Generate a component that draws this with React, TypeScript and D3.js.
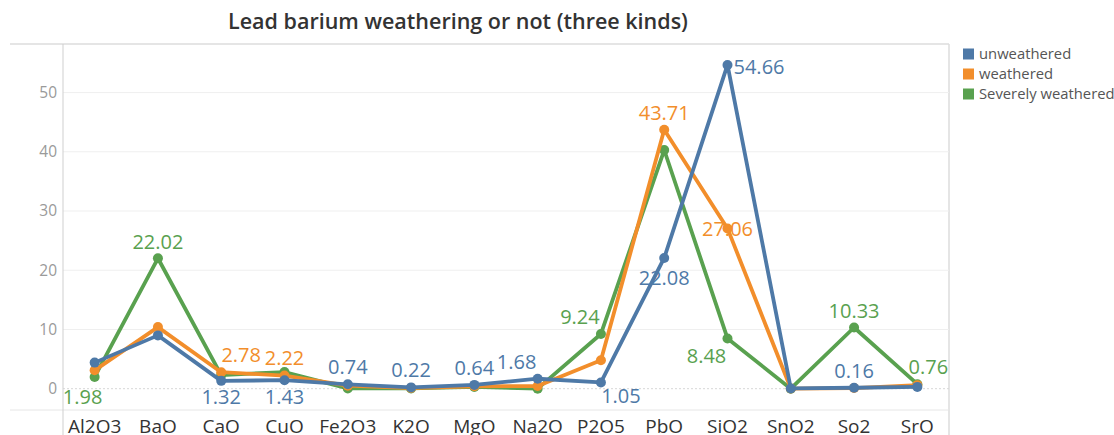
import React from "react";
import * as d3 from "d3";

const categories = ["Al2O3", "BaO", "CaO", "CuO", "Fe2O3", "K2O", "MgO", "Na2O", "P2O5", "PbO", "SiO2", "SnO2", "So2", "SrO"];
const unweathered = [4.4, 9.0, 1.32, 1.43, 0.74, 0.22, 0.64, 1.68, 1.05, 22.08, 54.66, 0.05, 0.16, 0.3];
const weathered = [3.1, 10.4, 2.78, 2.22, 0.5, 0.1, 0.4, 0.45, 4.8, 43.71, 27.06, 0.02, 0.1, 0.6];
const severely = [1.98, 22.02, 2.3, 2.8, 0.05, 0.05, 0.3, 0.0, 9.24, 40.3, 8.48, 0.0, 10.33, 0.76];
const seriesNames = ["unweathered", "weathered", "Severely weathered"];
const yTicks = [0, 10, 20, 30, 40, 50];

// which values carry a label (series index : category -> offset / anchor)
const labelPlacement: Record<string, [number, number, string]> = {
  "2:Al2O3": [-12, 20, "middle"],
  "2:BaO": [0, -16, "middle"],
  "1:CaO": [20, -17, "middle"],
  "1:CuO": [0, -18, "middle"],
  "0:CaO": [0, 16, "middle"],
  "0:CuO": [0, 17, "middle"],
  "0:Fe2O3": [0, -17, "middle"],
  "0:K2O": [0, -17, "middle"],
  "0:MgO": [0, -17, "middle"],
  "0:Na2O": [-21, -17, "middle"],
  "0:P2O5": [20, 14, "middle"],
  "2:P2O5": [-21, -17, "middle"],
  "0:PbO": [0, 20, "middle"],
  "1:PbO": [0, -17, "middle"],
  "2:SiO2": [-21, 18, "middle"],
  "1:SiO2": [0, 1, "middle"],
  "0:SiO2": [6, 2, "start"],
  "2:So2": [0, -17, "middle"],
  "0:So2": [0, -17, "middle"],
  "2:SrO": [11, -17, "middle"],
};

const colors = ["#4e79a7", "#f28e2b", "#59a14f"];
const FONT = "'Open Sans', 'Noto Sans', sans-serif";

export default function App() {
  const W = 1114, H = 435;
  const left = 63, right = 949, top = 44, bottom = 410;
  const x = d3.scaleBand<string>().domain(categories).range([left, right]);
  const y = d3.scaleLinear().domain([-3.6, 58.2]).range([bottom, top]);
  const cx = (c: string) => (x(c) as number) + x.bandwidth() / 2;
  const line = d3.line<number>().x((_, i) => cx(categories[i])).y((v) => y(v));
  const all = [unweathered, weathered, severely];
  const drawOrder = [2, 1, 0];

  return (
    <svg width={W} height={H} style={{ position: "absolute", left: 0, top: 0, background: "#fff" }} fontFamily={FONT}>
      <text x={458} y={29} textAnchor="middle" fontSize={21.5} fill="#333" fontWeight={600}>
        Lead barium weathering or not (three kinds)
      </text>
      {/* frame */}
      <line x1={10} x2={right} y1={top} y2={top} stroke="#dcdcdc" strokeWidth={1.5} />
      <line x1={right} x2={right} y1={top} y2={H} stroke="#dcdcdc" strokeWidth={1.5} />
      <line x1={10} x2={right} y1={bottom} y2={bottom} stroke="#e6e6e6" strokeWidth={1} />
      {/* gridlines */}
      {yTicks.map((t) => (
        <line key={"g" + t} x1={left} x2={right} y1={y(t)} y2={y(t)}
          stroke={t === 0 ? "#d8d8d8" : "#efefef"} strokeWidth={1} strokeDasharray={t === 0 ? "2,2" : undefined} />
      ))}
      <line x1={left} x2={left} y1={top} y2={H} stroke="#cfcfcf" strokeWidth={1} />
      {yTicks.map((t) => (
        <text key={"t" + t} x={57} y={y(t)} dy="0.35em" textAnchor="end" fontSize={15.5} fill="#9a9a9a">{t}</text>
      ))}
      {categories.map((c) => (
        <text key={"x" + c} x={cx(c)} y={426} dy="0.35em" textAnchor="middle" fontSize={19} fill="#333">{c}</text>
      ))}
      {drawOrder.map((s) => (
        <g key={"s" + s}>
          <path d={line(all[s]) || ""} fill="none" stroke={colors[s]} strokeWidth={3.8} strokeLinejoin="round" />
          {all[s].map((v, i) => (
            <circle key={i} cx={cx(categories[i])} cy={y(v)} r={5} fill={colors[s]} />
          ))}
        </g>
      ))}
      {drawOrder.map((s) => (
        <g key={"l" + s}>
          {all[s].map((v, i) => {
            const p = labelPlacement[s + ":" + categories[i]];
            if (!p) return null;
            return (
              <text key={i} x={cx(categories[i]) + p[0]} y={y(v) + p[1]} dy="0.35em" textAnchor={p[2] as any}
                fontSize={20} fill={colors[s]}>{v.toFixed(2)}</text>
            );
          })}
        </g>
      ))}
      {/* legend */}
      {seriesNames.map((n, i) => (
        <g key={"lg" + i} transform={`translate(963, ${54 + i * 20})`}>
          <rect x={0} y={-5.5} width={11} height={11} fill={colors[i]} />
          <text x={16} y={0} dy="0.35em" fontSize={14.8} fill="#555">{n}</text>
        </g>
      ))}
    </svg>
  );
}
